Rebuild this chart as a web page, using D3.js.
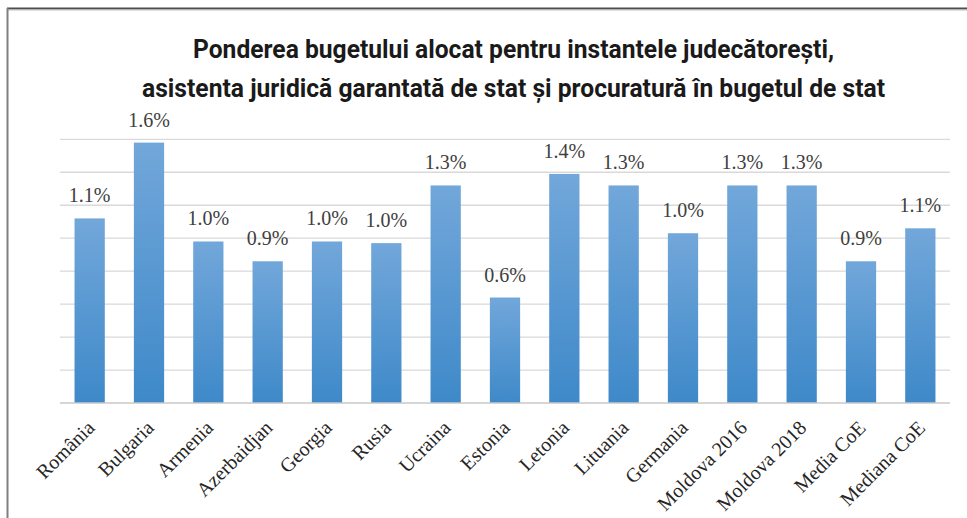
<!DOCTYPE html>
<html>
<head>
<meta charset="utf-8">
<script src="https://cdn.jsdelivr.net/npm/d3@7"></script>
<style>
	body { margin: 0; background: #fff; }
	.grid line { stroke: #d9d9d9; stroke-width: 1.3; }
	.label { font-family: 'Liberation Serif', serif; fill: #404040; }
	.cat { font-family: 'Liberation Serif', serif; fill: #262626; }
</style>
</head>
<body>
<div id="chart"></div>
<script>
var countries = ['România', 'Bulgaria', 'Armenia', 'Azerbaidjan', 'Georgia', 'Rusia', 'Ucraina', 'Estonia',
	'Letonia', 'Lituania', 'Germania', 'Moldova 2016', 'Moldova 2018', 'Media CoE', 'Mediana CoE'];
var shares = [1.12, 1.58, 0.98, 0.86, 0.98, 0.97, 1.32, 0.64, 1.39, 1.32, 1.03, 1.32, 1.32, 0.86, 1.06];
var gridTicks = [0, 0.2, 0.4, 0.6, 0.8, 1.0, 1.2, 1.4, 1.6];
var titleLines = ['Ponderea bugetului alocat pentru instantele judecătorești,',
	'asistenta juridică garantată de stat și procuratură în bugetul de stat'];

var width = 967;
var height = 518;
var margin = { top: 139.3, left: 60, bottom: 115, right: 17 };
var g_width = width - margin.left - margin.right;
var g_height = height - margin.top - margin.bottom;

var svg = d3.select('#chart').append('svg')
	.attr('width', width)
	.attr('height', height);

var defs = svg.append('defs');
var grad = defs.append('linearGradient')
	.attr('id', 'barGrad')
	.attr('x1', 0).attr('y1', 0)
	.attr('x2', 0).attr('y2', 1);
grad.append('stop').attr('offset', '0%').attr('stop-color', '#72a7da');
grad.append('stop').attr('offset', '100%').attr('stop-color', '#3e89c9');

// frame (only top and left edges are visible in the picture)
svg.append('line')
	.attr('x1', 7).attr('x2', width).attr('y1', 8.5).attr('y2', 8.5)
	.attr('stroke', '#4d4d4d').attr('stroke-width', 2);
svg.append('line')
	.attr('x1', 7).attr('x2', width).attr('y1', 10).attr('y2', 10)
	.attr('stroke', '#bfbfbf').attr('stroke-width', 1);
svg.append('line')
	.attr('x1', 7.5).attr('x2', 7.5).attr('y1', 8).attr('y2', height)
	.attr('stroke', '#808080').attr('stroke-width', 2);

// title
var titleY = [58, 97];
var titleW = [641, 743];
svg.selectAll('.title')
	.data(titleLines)
	.enter()
	.append('text')
	.attr('class', 'title')
	.attr('x', width / 2 + 30)
	.attr('y', function(d, i) { return titleY[i]; })
	.attr('text-anchor', 'middle')
	.attr('textLength', function(d, i) { return titleW[i]; })
	.attr('lengthAdjust', 'spacingAndGlyphs')
	.style('font-family', 'Roboto, sans-serif')
	.style('font-weight', 'bold')
	.style('font-size', '25px')
	.style('fill', '#1a1a1a')
	.text(function(d) { return d; });

var g = svg.append('g')
	.attr('transform', 'translate(' + margin.left + ',' + margin.top + ')');

var xScale = d3.scaleBand()
	.domain(countries)
	.range([0, g_width])
	.paddingInner(0.49)
	.paddingOuter(0.245);

var yScale = d3.scaleLinear()
	.domain([0, 1.6])
	.range([g_height, 0]);

// gridlines
g.append('g')
	.attr('class', 'grid')
	.selectAll('line')
	.data(gridTicks.slice(1))
	.enter()
	.append('line')
	.attr('x1', 0)
	.attr('x2', g_width)
	.attr('y1', function(d) { return yScale(d); })
	.attr('y2', function(d) { return yScale(d); });

// bars
g.selectAll('.bar')
	.data(shares)
	.enter()
	.append('rect')
	.attr('class', 'bar')
	.attr('x', function(d, i) { return xScale(countries[i]); })
	.attr('y', function(d) { return yScale(d); })
	.attr('width', xScale.bandwidth())
	.attr('height', function(d) { return g_height - yScale(d); })
	.attr('fill', 'url(#barGrad)');

// x axis baseline
g.append('line')
	.attr('x1', 0).attr('x2', g_width)
	.attr('y1', g_height).attr('y2', g_height)
	.attr('stroke', '#c8c8c8')
	.attr('stroke-width', 1.5);

// value labels
g.selectAll('.label')
	.data(shares)
	.enter()
	.append('text')
	.attr('class', 'label')
	.attr('x', function(d, i) { return xScale(countries[i]) + xScale.bandwidth() / 2; })
	.attr('y', function(d) { return yScale(d) - 16; })
	.attr('text-anchor', 'middle')
	.style('font-size', '20px')
	.text(function(d) { return d.toFixed(1) + '%'; });

// category labels, rotated
g.selectAll('.cat')
	.data(countries)
	.enter()
	.append('text')
	.attr('class', 'cat')
	.attr('text-anchor', 'end')
	.attr('transform', function(d) {
		var x = xScale(d) + xScale.bandwidth() / 2 + 6;
		var y = g_height + 26;
		return 'translate(' + x + ',' + y + ') rotate(-45)';
	})
	.style('font-size', '20px')
	.text(function(d) { return d; });
</script>
</body>
</html>
